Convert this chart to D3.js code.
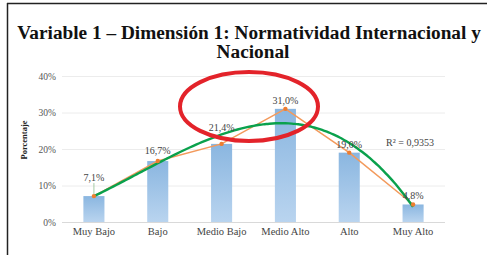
<!DOCTYPE html>
<html>
<head>
<meta charset="utf-8">
<script src="https://cdn.jsdelivr.net/npm/d3@7"></script>
<style>
  body { margin: 0; background: #fff; }
  text { font-family: "Liberation Serif", "Times New Roman", serif; }
</style>
</head>
<body>
<svg id="chart"></svg>
<script>
let categories = ["Muy Bajo", "Bajo", "Medio Bajo", "Medio Alto", "Alto", "Muy Alto"]
let values = [7.1, 16.7, 21.4, 31.0, 19.0, 4.8]
let yTicks = [0, 10, 20, 30, 40]
let titleLines = ["Variable 1 – Dimensión 1: Normatividad Internacional y", "Nacional"]
let r2Text = "R² = 0,9353"

let w = 487
let h = 255

let svg = d3.select("#chart")
    .attr("width", w)
    .attr("height", h)

// frame (page border lines from the scan)
svg.append("line").attr("x1", 7.5).attr("x2", 7.5).attr("y1", 3).attr("y2", h)
    .attr("stroke", "#222").attr("stroke-width", 1.5)
svg.append("line").attr("x1", 7).attr("x2", w).attr("y1", 3.5).attr("y2", 3.5)
    .attr("stroke", "#222").attr("stroke-width", 1.5)

// title
svg.selectAll("text.title")
    .data(titleLines)
    .enter()
    .append("text")
    .attr("class", "title")
    .attr("x", (d, i) => i == 0 ? 249 : 253)
    .attr("y", (d, i) => 39 + i * 19)
    .attr("text-anchor", "middle")
    .attr("font-size", 19.3)
    .attr("font-weight", "bold")
    .attr("fill", "#111")
    .text(d => d)

let x = d3.scaleBand()
    .domain(categories)
    .range([62, 445])
    .paddingInner(0.67)
    .paddingOuter(0.335)

let y = d3.scaleLinear()
    .domain([0, 40])
    .range([222, 76])

let defs = svg.append("defs")
let grad = defs.append("linearGradient")
    .attr("id", "barGrad")
    .attr("x1", 0).attr("x2", 0).attr("y1", 0).attr("y2", 1)
grad.append("stop").attr("offset", "0%").attr("stop-color", "#8ab6e0")
grad.append("stop").attr("offset", "100%").attr("stop-color", "#b9d4ef")

// gridlines
svg.append("g")
    .selectAll("line")
    .data(yTicks)
    .enter()
    .append("line")
    .attr("x1", 62)
    .attr("x2", 445)
    .attr("y1", d => y(d) + 0.5)
    .attr("y2", d => y(d) + 0.5)
    .attr("stroke", d => d == 0 ? "#d9d9d9" : "#ececec")
    .attr("stroke-width", 1)

// y axis labels
let yAxis = svg.append("g")
    .attr("transform", "translate(56,0)")
    .call(d3.axisLeft(y).tickValues(yTicks).tickSize(0).tickPadding(0).tickFormat(d => d + "%"))
yAxis.select(".domain").remove()
yAxis.selectAll("text")
    .attr("font-family", "Liberation Serif")
    .attr("font-size", 9.5)
    .attr("fill", "#555")

svg.append("text")
    .attr("transform", "translate(27,140) rotate(-90)")
    .attr("text-anchor", "middle")
    .attr("font-size", 8.5)
    .attr("font-weight", "bold")
    .attr("fill", "#222")
    .text("Porcentaje")

// x axis labels
let xAxis = svg.append("g")
    .attr("transform", "translate(0,226)")
    .call(d3.axisBottom(x).tickSize(0).tickPadding(0))
xAxis.select(".domain").remove()
xAxis.selectAll("text")
    .attr("font-family", "Liberation Serif")
    .attr("font-size", 10.5)
    .attr("fill", "#444")
    .attr("dy", "0.9em")

// bars
svg.append("g")
    .selectAll("rect")
    .data(values)
    .enter()
    .append("rect")
    .attr("x", (d, i) => x(categories[i]))
    .attr("y", d => y(d))
    .attr("width", x.bandwidth())
    .attr("height", d => y(0) - y(d))
    .attr("fill", "url(#barGrad)")

let cx = i => x(categories[i]) + x.bandwidth() / 2

// polynomial trendline (order 3, least squares on the values -> R² 0,9353)
function polyFit(xs, ys, order) {
    let n = order + 1
    let A = []
    for (let r = 0; r < n; r++) {
        A.push([])
        for (let c = 0; c < n; c++) A[r].push(d3.sum(xs, xv => Math.pow(xv, r + c)))
        A[r].push(d3.sum(xs, (xv, k) => Math.pow(xv, r) * ys[k]))
    }
    for (let p = 0; p < n; p++) {
        let m = p
        for (let r = p + 1; r < n; r++) if (Math.abs(A[r][p]) > Math.abs(A[m][p])) m = r
        ;[A[p], A[m]] = [A[m], A[p]]
        for (let r = 0; r < n; r++) {
            if (r == p) continue
            let f = A[r][p] / A[p][p]
            for (let c = p; c <= n; c++) A[r][c] -= f * A[p][c]
        }
    }
    return A.map((row, i) => row[n] / row[i])
}
let xs = values.map((d, i) => i + 1)
let coef = polyFit(xs, values, 3)
let trend = t => coef.reduce((s, c, k) => s + c * Math.pow(t, k), 0)
let step = x.step()
let trendPts = d3.range(1, 6.001, 0.05).map(t => [cx(0) + (t - 1) * step, y(trend(t))])

// orange line with markers
svg.append("path")
    .datum(values)
    .attr("d", d3.line().x((d, i) => cx(i)).y(d => y(d)))
    .attr("fill", "none")
    .attr("stroke", "#f39a5c")
    .attr("stroke-width", 1.5)

svg.append("path")
    .datum(trendPts)
    .attr("d", d3.line().curve(d3.curveBasis))
    .attr("fill", "none")
    .attr("stroke", "#0aa14c")
    .attr("stroke-width", 2.4)

svg.append("g")
    .selectAll("circle")
    .data(values)
    .enter()
    .append("circle")
    .attr("cx", (d, i) => cx(i))
    .attr("cy", d => y(d))
    .attr("r", 2.2)
    .attr("fill", "#ed7d31")

// data labels
let labelLift = [15, 7, 13, 5, 5, 5]
svg.append("g")
    .selectAll("text")
    .data(values)
    .enter()
    .append("text")
    .attr("x", (d, i) => cx(i))
    .attr("y", (d, i) => y(d) - labelLift[i])
    .attr("text-anchor", "middle")
    .attr("font-size", 10)
    .attr("fill", "#444")
    .text(d => d.toFixed(1).replace(".", ",") + "%")

// leader line for first label
svg.append("line")
    .attr("x1", cx(0)).attr("x2", cx(0))
    .attr("y1", y(values[0]) - 13).attr("y2", y(values[0]) - 2)
    .attr("stroke", "#8fbf8f").attr("stroke-width", 0.8)

svg.append("text")
    .attr("x", 410)
    .attr("y", 146)
    .attr("text-anchor", "middle")
    .attr("font-size", 10)
    .attr("fill", "#444")
    .text(r2Text)

// red highlight ellipse
svg.append("ellipse")
    .attr("cx", 249)
    .attr("cy", 106.5)
    .attr("rx", 69)
    .attr("ry", 34.5)
    .attr("fill", "none")
    .attr("stroke", "#e3232a")
    .attr("stroke-width", 4)
</script>
</body>
</html>
